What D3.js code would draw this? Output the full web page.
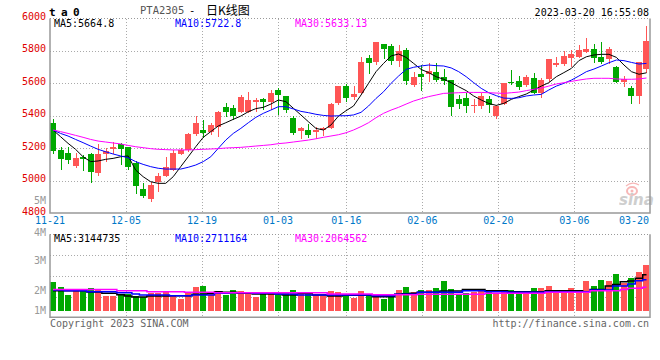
<!DOCTYPE html>
<html><head><meta charset="utf-8">
<script src="https://cdn.jsdelivr.net/npm/d3@7"></script>
<style>body{margin:0;background:#fff}svg{display:block}</style>
</head><body>
<svg id="c" width="660" height="360"></svg>
<script>
const dates = ["11-21","11-22","11-23","11-24","11-25","11-28","11-29","11-30","12-01","12-02",
"12-05","12-06","12-07","12-08","12-09","12-12","12-13","12-14","12-15","12-16",
"12-19","12-20","12-21","12-22","12-23","12-26","12-27","12-28","12-29","12-30",
"01-03","01-04","01-05","01-06","01-09","01-10","01-11","01-12","01-13",
"01-16","01-17","01-18","01-19","01-20","01-30","01-31","02-01","02-02","02-03",
"02-06","02-07","02-08","02-09","02-10","02-13","02-14","02-15","02-16","02-17",
"02-20","02-21","02-22","02-23","02-24","02-27","02-28","03-01","03-02","03-03",
"03-06","03-07","03-08","03-09","03-10","03-13","03-14","03-15","03-16","03-17",
"03-20"];
const open  = [5353,5189,5168,5090,5147,5164,5045,5164,5193,5226,5209,5106,4948,4888,4991,5030,5065,5164,5189,5287,
5312,5302,5328,5452,5446,5425,5425,5487,5503,5487,5559,5522,5384,5308,5312,5302,5312,5322,5481,5583,
5518,5538,5756,5734,5843,5830,5738,5806,5590,5655,5655,5668,5637,5620,5503,5511,5460,5460,5503,5398,
5472,5610,5614,5590,5635,5538,5625,5715,5719,5756,5764,5795,5810,5760,5748,5699,5610,5569,5524,5690];
const high  = [5378,5209,5205,5168,5158,5172,5223,5199,5238,5230,5209,5121,4983,4991,5045,5147,5189,5199,5291,5398,
5374,5353,5429,5476,5466,5528,5546,5507,5511,5559,5569,5522,5398,5333,5347,5333,5333,5481,5583,5596,
5583,5765,5775,5855,5843,5843,5834,5816,5672,5713,5723,5723,5686,5620,5528,5538,5501,5538,5522,5466,
5604,5682,5645,5651,5666,5631,5752,5765,5801,5806,5836,5878,5843,5853,5822,5707,5645,5583,5733,5956];
const low   = [5164,5065,5102,5078,5061,4987,5028,5117,5164,5096,5065,4917,4890,4870,4929,5024,5061,5158,5178,5275,
5261,5279,5271,5394,5374,5419,5415,5425,5435,5435,5405,5415,5281,5254,5261,5254,5275,5316,5466,5487,
5497,5534,5657,5713,5750,5713,5703,5590,5575,5553,5610,5606,5590,5398,5444,5419,5419,5440,5419,5378,
5466,5590,5559,5575,5534,5507,5610,5699,5707,5703,5754,5785,5727,5719,5719,5600,5579,5472,5472,5662];
const close = [5184,5135,5127,5141,5135,5053,5164,5182,5205,5197,5086,4968,4905,4971,5030,5086,5172,5189,5287,5353,
5295,5343,5425,5425,5398,5518,5497,5497,5487,5540,5528,5435,5291,5326,5281,5312,5326,5472,5583,5511,
5534,5734,5723,5855,5810,5740,5802,5616,5641,5641,5676,5620,5614,5456,5472,5462,5466,5522,5468,5462,
5600,5600,5575,5641,5542,5620,5752,5727,5769,5781,5806,5810,5758,5731,5810,5610,5625,5524,5729,5861];
const ma5  = [5312,5271,5230,5193,5147,5117,5121,5131,5137,5147,5152,5065,5024,4993,4983,4983,5024,5086,5147,5209,
5267,5302,5337,5357,5378,5398,5425,5444,5452,5472,5497,5487,5446,5405,5363,5322,5312,5343,5398,5431,
5460,5528,5600,5672,5723,5769,5781,5760,5723,5686,5666,5641,5625,5604,5579,5555,5522,5497,5476,5464,
5476,5501,5518,5534,5559,5583,5604,5641,5666,5692,5740,5764,5775,5779,5779,5760,5713,5672,5656,5665];
const ma10 = [5312,5291,5275,5254,5234,5213,5193,5178,5164,5152,5141,5117,5100,5086,5076,5071,5071,5071,5082,5096,
5117,5147,5199,5250,5291,5322,5357,5390,5415,5435,5456,5456,5442,5427,5419,5409,5402,5398,5400,5400,
5405,5421,5460,5507,5548,5600,5645,5686,5699,5707,5713,5709,5707,5695,5672,5641,5604,5569,5542,5524,
5509,5507,5511,5522,5528,5532,5559,5583,5600,5620,5645,5672,5688,5707,5727,5744,5740,5729,5719,5723];
const ma30 = [5312,5302,5291,5279,5267,5254,5244,5238,5232,5226,5217,5209,5203,5197,5193,5191,5189,5189,5189,5191,
5193,5195,5197,5201,5203,5205,5209,5213,5217,5221,5228,5232,5238,5244,5250,5258,5267,5275,5283,5295,
5312,5333,5357,5388,5415,5435,5452,5472,5491,5505,5518,5528,5538,5540,5542,5544,5544,5544,5542,5540,
5538,5542,5546,5555,5563,5571,5583,5596,5604,5612,5620,5627,5631,5631,5631,5627,5625,5625,5627,5633];
const volume = [2550000,2120000,1420000,1830000,1770000,2000000,1880000,1330000,1330000,1360000,
1450000,1300000,1190000,1590000,1590000,1770000,1330000,1040000,1620000,2120000,
2200000,1450000,1740000,1390000,1830000,1740000,1540000,1250000,1540000,1680000,
1390000,1590000,1830000,1450000,1450000,1390000,1300000,1770000,1680000,1390000,
1160000,1770000,1450000,1250000,1040000,1250000,1830000,2120000,1680000,1830000,
1830000,2030000,2640000,1940000,1450000,1540000,1620000,1830000,1680000,1590000,
1680000,1830000,1740000,1740000,2000000,2000000,2170000,1830000,1830000,2000000,
1680000,2640000,2200000,2700000,2640000,3220000,2460000,2900000,3420000,4000000];
const volMa5 = [1770000,1770000,1770000,1770000,1770000,1650000,1650000,1540000,1540000,1420000,
1300000,1220000,1220000,1300000,1300000,1300000,1330000,1330000,1330000,1450000,
1450000,1540000,1680000,1620000,1620000,1540000,1540000,1480000,1480000,1480000,
1480000,1390000,1390000,1540000,1540000,1390000,1390000,1300000,1300000,1360000,
1360000,1360000,1360000,1250000,1250000,1250000,1450000,1500000,1550000,1620000,
1620000,1620000,1740000,1740000,1740000,1880000,1880000,1880000,1770000,1770000,
1770000,1680000,1680000,1680000,1680000,1680000,1770000,1770000,1770000,1770000,
1770000,1680000,1880000,1880000,2170000,2300000,2550000,2600000,2840000,3144735];
const volMa10 = [1830000,1830000,1770000,1770000,1770000,1680000,1680000,1680000,1680000,1590000,
1590000,1480000,1390000,1390000,1390000,1390000,1330000,1330000,1330000,1390000,
1390000,1390000,1540000,1540000,1590000,1590000,1590000,1540000,1540000,1540000,
1480000,1480000,1480000,1390000,1390000,1390000,1390000,1390000,1390000,1390000,
1390000,1390000,1390000,1330000,1330000,1330000,1450000,1450000,1450000,1620000,
1620000,1620000,1620000,1620000,1620000,1770000,1770000,1770000,1680000,1680000,
1680000,1620000,1620000,1620000,1620000,1620000,1680000,1680000,1680000,1680000,
1680000,1680000,1830000,1830000,1830000,2170000,2170000,2350000,2640000,2711164];
const volMa30 = [1880000,1880000,1880000,1880000,1880000,1880000,1880000,1880000,1880000,1770000,
1770000,1770000,1770000,1680000,1680000,1680000,1680000,1680000,1620000,1620000,
1620000,1620000,1590000,1590000,1590000,1590000,1590000,1590000,1590000,1590000,
1590000,1590000,1590000,1590000,1590000,1590000,1590000,1480000,1480000,1480000,
1480000,1480000,1480000,1420000,1420000,1420000,1420000,1420000,1420000,1450000,
1450000,1450000,1450000,1450000,1450000,1450000,1450000,1450000,1540000,1540000,
1540000,1540000,1540000,1540000,1540000,1540000,1620000,1620000,1620000,1620000,
1620000,1620000,1770000,1770000,1770000,1770000,1880000,1970000,1970000,2064562];
const priceTicks = [6000,5800,5600,5400,5200,5000,4800];
const dateTicks = ["11-21","12-05","12-19","01-03","01-16","02-06","02-20","03-06","03-20"];
const volTickLabels = ["5M","4M","3M","2M","1M"];
const volTickValues = [5000000,4000000,3000000,2000000,1000000];
const maLegend = ["MA5:5664.8","MA10:5722.8","MA30:5633.13"];
const volLegend = ["MA5:3144735","MA10:2711164","MA30:2064562"];
const maColors = ["#000000","#0000ff","#ff00ff"];

const svg = d3.select("#c");
const MONO = "'DejaVu Sans Mono', 'Liberation Mono', monospace";
const L = 50, R = 650, T = 18.5, B = 213;
const VT = 234.3, VB = 317.3;
const UP = "#ff5555", DN = "#00a800";
const idx = d3.range(dates.length);

const x = d3.scaleBand().domain(idx).range([50, 649.5]).paddingInner(0.2).paddingOuter(0).align(0);
const bw = x.bandwidth();
const cx = i => Math.round(x(i) + bw / 2) + 0.5;
const xg = d3.scaleLinear().domain([0, 80]).range([50, 658]);
const y = d3.scaleLinear().domain([4800, 6000]).range([B, T]);
const vy = d3.scaleLinear().domain([0, 4000000]).range([311, 265]);
const vlab = d3.scaleLinear().domain([0, 5000000]).range([350.7, 200.7]);

// grids
const gridG = svg.append("g").attr("stroke", "#aaa").attr("stroke-dasharray", "1,2").attr("shape-rendering", "crispEdges");
priceTicks.filter(p => p > 4800 && p < 6000).forEach(p => {
  gridG.append("line").attr("x1", L).attr("x2", R).attr("y1", Math.round(y(p)) + 0.5).attr("y2", Math.round(y(p)) + 0.5);
});
dateTicks.forEach(d => {
  const i = dates.indexOf(d);
  const gx = Math.round(xg(i)) + 0.5;
  if (i > 0 && gx < R) {
    gridG.append("line").attr("x1", gx).attr("x2", gx).attr("y1", T).attr("y2", B);
    gridG.append("line").attr("x1", gx).attr("x2", gx).attr("y1", VT).attr("y2", VB);
  }
});
[0.25, 0.5, 0.75].forEach(f => {
  const gy = Math.round(VT + (VB - VT) * f) + 0.5;
  gridG.append("line").attr("x1", L).attr("x2", R).attr("y1", gy).attr("y2", gy);
});
gridG.append("line").attr("x1", L).attr("x2", R).attr("y1", T).attr("y2", T).attr("stroke", "#999");
gridG.append("line").attr("x1", L).attr("x2", R).attr("y1", VT).attr("y2", VT).attr("stroke", "#999");

// sina watermark
const logo = svg.append("g").attr("opacity", 0.9);
logo.append("ellipse").attr("cx", 632).attr("cy", 191).attr("rx", 5).attr("ry", 4)
  .attr("fill", "none").attr("stroke", "#f7b0b0").attr("stroke-width", 2);
logo.append("circle").attr("cx", 632).attr("cy", 191).attr("r", 1.5).attr("fill", "#f7b0b0");
logo.append("path").attr("d", "M626,186 Q632,181 639,185").attr("fill", "none").attr("stroke", "#f7b0b0").attr("stroke-width", 1.2);
logo.append("text").attr("x", 619).attr("y", 205).attr("font-family", "'DejaVu Sans', sans-serif")
  .attr("font-size", 15).attr("font-weight", "bold").attr("font-style", "italic").attr("fill", "#c9c9c9").text("sina");

// candles
const cg = svg.append("g").attr("shape-rendering", "crispEdges");
idx.forEach(i => {
  const up = close[i] >= open[i];
  const col = up ? UP : DN;
  cg.append("line").attr("x1", cx(i)).attr("x2", cx(i)).attr("y1", y(high[i])).attr("y2", y(low[i])).attr("stroke", col);
  const top = y(Math.max(open[i], close[i])), bot = y(Math.min(open[i], close[i]));
  cg.append("rect").attr("x", Math.round(x(i))).attr("width", Math.round(bw))
    .attr("y", top).attr("height", Math.max(1, bot - top)).attr("fill", col);
});

// MA lines
const line = d3.line().x((d, i) => x(i) + bw / 2).y(d => y(d));
[ma5, ma10, ma30].forEach((arr, k) => {
  svg.append("path").datum(arr).attr("d", line).attr("fill", "none")
    .attr("stroke", maColors[k]).attr("stroke-width", 1);
});

// volume bars
const vg = svg.append("g").attr("shape-rendering", "crispEdges");
idx.forEach(i => {
  const up = close[i] >= open[i];
  vg.append("rect").attr("x", Math.round(x(i))).attr("width", Math.round(bw))
    .attr("y", vy(volume[i])).attr("height", vy(0) - vy(volume[i])).attr("fill", up ? UP : DN);
});
const vline = d3.line().x((d, i) => x(i) + bw / 2).y(d => vy(d)).curve(d3.curveStep);
[volMa5, volMa10, volMa30].forEach((arr, k) => {
  svg.append("path").datum(arr).attr("d", vline).attr("fill", "none")
    .attr("stroke", maColors[k]).attr("stroke-width", 1.5);
});

// borders
const bg = svg.append("g").attr("stroke", "#999").attr("stroke-width", 1.5).attr("fill", "none");
bg.append("path").attr("d", `M${L},${T}V${B}H${R}V${T}`);
bg.append("path").attr("d", `M${L},${VT}V${VB}H${R}V${VT}`);

// y labels
const tg = svg.append("g").attr("font-family", MONO).attr("font-size", 10);
priceTicks.forEach(p => {
  tg.append("text").attr("x", 46).attr("y", y(p) + 1.5).attr("text-anchor", "end").attr("fill", "#e00000").text(p);
});
dateTicks.forEach(d => {
  const i = dates.indexOf(d);
  const gx = xg(i);
  const t = tg.append("text").attr("y", 223.8).attr("fill", "#0078c8").text(d);
  if (gx + 15 > R) t.attr("x", R - 1).attr("text-anchor", "end");
  else t.attr("x", gx).attr("text-anchor", "middle");
});
volTickLabels.forEach((s, k) => {
  const ly = Math.min(vlab(volTickValues[k]), 310.7) + 3.5;
  const yy = (ly > 226 && ly < 235.5) ? 235.5 : ly;
  tg.append("text").attr("x", 46).attr("y", yy)
    .attr("text-anchor", "end").attr("fill", "#999").text(s);
});
const legX = [54, 175, 295];
maLegend.forEach((s, k) => tg.append("text").attr("x", legX[k]).attr("y", 27.3).attr("fill", maColors[k]).text(s));
volLegend.forEach((s, k) => tg.append("text").attr("x", legX[k]).attr("y", 241.7).attr("fill", maColors[k]).text(s));

// header
svg.append("text").attr("x", 49).attr("y", 15.5).attr("font-family", MONO).attr("font-size", 11)
  .attr("font-weight", "bold").attr("letter-spacing", 5.4).attr("fill", "#000").text("ta0");
svg.append("text").attr("x", 140).attr("y", 14).attr("font-family", MONO).attr("font-size", 10.5)
  .attr("fill", "#555").text("PTA2305");
svg.append("text").attr("x", 189).attr("y", 14).attr("font-family", MONO).attr("font-size", 10.5)
  .attr("fill", "#000").text("-");
svg.append("text").attr("x", 206).attr("y", 14.5).attr("font-family", "'Noto Sans CJK SC', sans-serif").attr("font-size", 12)
  .attr("fill", "#000").text("日K线图");
svg.append("text").attr("x", 649).attr("y", 15.5).attr("font-family", MONO).attr("font-size", 10)
  .attr("text-anchor", "end").attr("fill", "#000").text("2023-03-20 16:55:08");
svg.append("text").attr("x", 50).attr("y", 326.5).attr("font-family", MONO).attr("font-size", 10)
  .attr("fill", "#666").text("Copyright 2023 SINA.COM");
svg.append("text").attr("x", 649).attr("y", 326.5).attr("font-family", MONO).attr("font-size", 10)
  .attr("text-anchor", "end").attr("fill", "#666").text("http://finance.sina.com.cn");
</script>
</body></html>
